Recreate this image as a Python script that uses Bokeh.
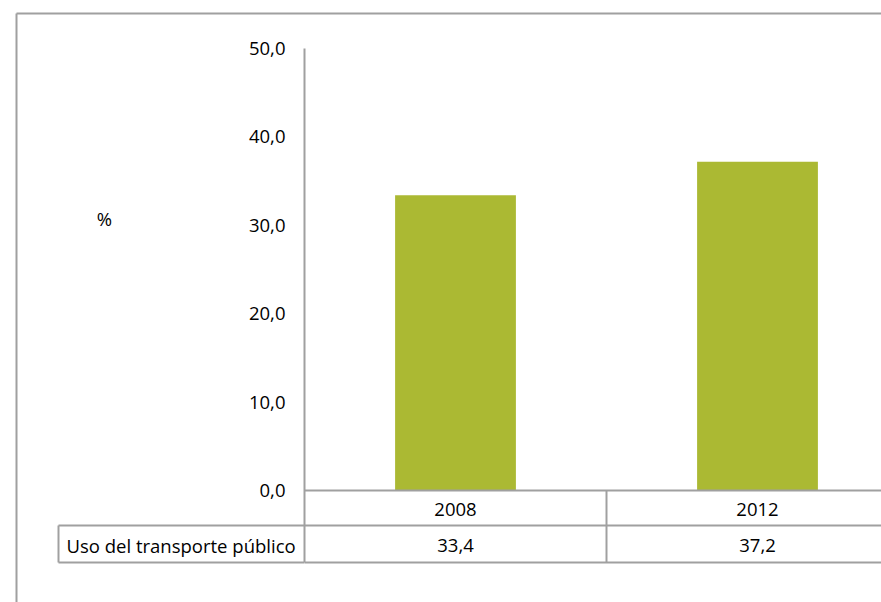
from bokeh.plotting import figure
from bokeh.models import Range1d, FixedTicker, ColumnDataSource
from bokeh.core.properties import value
from bokeh.embed import file_html
from bokeh.resources import INLINE

# ---- data ----
categories = ["2008", "2012"]
values = [33.4, 37.2]
y_ticks = [0, 10, 20, 30, 40, 50]
y_tick_labels = ["0,0", "10,0", "20,0", "30,0", "40,0", "50,0"]
series_name = "Uso del transporte público"
axis_title = "%"

# ---- layout (page pixels) ----
W, H = 881, 602
OFF = 0
AX_X = 304      # y axis / left edge of table columns
CAT_W = 302     # width of one category column
Y0 = 490        # page y of value 0
PX_PER_UNIT = 8.84
TOP = 13        # outer border top
FONT = "Open Sans"
FS = "18.5px"
LINE = "#A0A0A0"
LW = 2
BAR = "#ABB933"


def xd(px):
    return (px - AX_X) / CAT_W


def yd(py):
    return (Y0 - py) / PX_PER_UNIT


p = figure(width=W, height=H, output_backend="svg", toolbar_location=None,
           x_range=Range1d(0, xd(OFF + W)), y_range=Range1d(yd(OFF + H), yd(TOP)),
           x_axis_location=None, min_border_left=AX_X - OFF, min_border_right=0,
           min_border_top=TOP - OFF, min_border_bottom=0)
p.xgrid.visible = False
p.ygrid.visible = False
p.outline_line_color = None
p.background_fill_color = "white"
p.border_fill_color = "white"

ax = p.yaxis[0]
ax.ticker = FixedTicker(ticks=y_ticks)
ax.major_label_overrides = {t: l for t, l in zip(y_ticks, y_tick_labels)}
ax.bounds = (yd(562), y_ticks[-1])
ax.axis_line_color = LINE
ax.axis_line_width = LW
ax.major_tick_line_color = None
ax.minor_tick_line_color = None
ax.major_tick_out = 0
ax.major_tick_in = 0
ax.major_label_standoff = 19
ax.major_label_text_font = FONT
ax.major_label_text_font_size = FS
ax.major_label_text_color = "black"

n = len(categories)
xs = [i + 0.5 for i in range(n)]
src = ColumnDataSource(dict(x=xs, top=values, cat=categories,
                            lab=[f"{v:.1f}".replace(".", ",") for v in values]))

p.vbar(x="x", top="top", bottom=0, width=0.4, source=src,
       fill_color=BAR, line_color=None)

# data table lines
row_y = [0, yd(525), yd(562)]
p.segment(x0=[0] * 3, x1=[n] * 3, y0=row_y, y1=row_y, line_color=LINE, line_width=LW)
col_x = list(range(1, n))
p.segment(x0=col_x, x1=col_x, y0=[0] * len(col_x), y1=[yd(562)] * len(col_x),
          line_color=LINE, line_width=LW)

# header cell of data table (left of the plot frame)
hx0, hy0, hy1 = xd(58), yd(525), yd(562)
p.segment(x0=[hx0, hx0, hx0], x1=[0, 0, hx0], y0=[hy0, hy1, hy0], y1=[hy0, hy1, hy1],
          line_color=LINE, line_width=LW, level="overlay")
# outer chart border (left and top edges)
bx, by = xd(16), yd(TOP)
p.segment(x0=[bx, bx], x1=[bx, xd(W + 50)], y0=[by, by], y1=[yd(H + 50), by],
          line_color=LINE, line_width=2, level="overlay")

p.text(x="x", y=yd(509), text="cat", source=src, text_align="center",
       text_baseline="middle", text_font=value(FONT), text_font_size=FS, text_color="black")
p.text(x="x", y=yd(545), text="lab", source=src, text_align="center",
       text_baseline="middle", text_font=value(FONT), text_font_size=FS, text_color="black")

p.text(x=[xd(66)], y=[yd(545)], text=[series_name], text_align="left",
       text_baseline="middle", text_font=value(FONT), text_font_size=FS,
       text_color="black", level="overlay")
p.text(x=[xd(104)], y=[yd(218)], text=[axis_title], text_align="center",
       text_baseline="middle", text_font=value(FONT), text_font_size=FS,
       text_color="black", level="overlay")

open("out.html", "w").write(file_html(p, INLINE))
